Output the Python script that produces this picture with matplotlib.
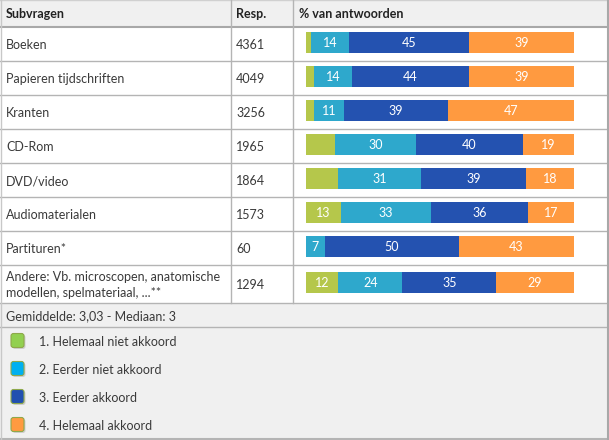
import matplotlib
matplotlib.use("Agg")
import matplotlib.pyplot as plt
from matplotlib.patches import Rectangle, FancyBboxPatch
import numpy as np

plt.rcParams['font.family'] = ['Lato', 'DejaVu Sans']

# ---------------- data ----------------
categories = ["Boeken", "Papieren tijdschriften", "Kranten", "CD-Rom", "DVD/video",
              "Audiomaterialen", "Partituren*",
              "Andere: Vb. microscopen, anatomische\nmodellen, spelmateriaal, ...**"]
responses = [4361, 4049, 3256, 1965, 1864, 1573, 60, 1294]
helemaal_niet = [2, 3, 3, 11, 12, 13, 0, 12]
eerder_niet = [14, 14, 11, 30, 31, 33, 7, 24]
eerder_akkoord = [45, 44, 39, 40, 39, 36, 50, 35]
helemaal_akkoord = [39, 39, 47, 19, 18, 17, 43, 29]
legend_labels = ["1. Helemaal niet akkoord", "2. Eerder niet akkoord",
                 "3. Eerder akkoord", "4. Helemaal akkoord"]
header = ["Subvragen", "Resp.", "% van antwoorden"]
footer_text = "Gemiddelde: 3,03 - Mediaan: 3"
# segments whose value label is not printed in the original (row, series)
hidden_labels = {(0, 0), (1, 0), (2, 0), (3, 0), (4, 0)}

series = [helemaal_niet, eerder_niet, eerder_akkoord, helemaal_akkoord]
bar_colors = ["#b5c74b", "#2ea8cc", "#2452b0", "#ff9a40"]
legend_colors = ["#92d050", "#00b0f0", "#2150b0", "#ff9a40"]

# ---------------- layout (pixels) ----------------
W, H = 609, 440
row_edges = [27, 61, 95, 129, 163, 197, 231, 265, 303]
footer_bottom = 327
col1, col2 = 231, 293
bar_x0, bar_x1 = 306, 574
txt = "#3a3a3a"
line_c = "#b4b4b4"

fig = plt.figure(figsize=(W / 100, H / 100), dpi=100)
bg = fig.add_axes([0, 0, 1, 1])
bg.set_xlim(0, W)
bg.set_ylim(H, 0)
bg.axis("off")

# backgrounds
bg.add_patch(Rectangle((0, 0), W, row_edges[0], facecolor="#f0f0f0", edgecolor="none"))
bg.add_patch(Rectangle((0, row_edges[-1]), W, H - row_edges[-1], facecolor="#f0f0f0", edgecolor="none"))

# horizontal lines
bg.plot([0, W], [0.5, 0.5], color="#d0d0d0", lw=1)
bg.plot([0, W], [row_edges[0], row_edges[0]], color="#a8a8a8", lw=1.5)
for y in row_edges[1:]:
    bg.plot([0, W], [y, y], color=line_c, lw=1)
bg.plot([0, W], [footer_bottom, footer_bottom], color=line_c, lw=1)
bg.plot([0, W], [H - 1, H - 1], color=line_c, lw=1.5)
# vertical lines
for x in (col1, col2):
    bg.plot([x, x], [0, row_edges[-1]], color=line_c, lw=1)
bg.plot([0.5, 0.5], [0, H], color="#c8c8c8", lw=1)
bg.plot([W - 1.5, W - 1.5], [0, H], color="#a8a8a8", lw=1.5)

fs = 9
# header
hy = row_edges[0] / 2 + 1
bg.text(6, hy, header[0], fontsize=fs, fontweight="bold", color="#222", va="center")
bg.text(col1 + 5, hy, header[1], fontsize=fs, fontweight="bold", color="#222", va="center")
bg.text(col2 + 6, hy, header[2], fontsize=fs, fontweight="bold", color="#222", va="center")

# rows
centers = [(row_edges[i] + row_edges[i + 1]) / 2 for i in range(len(categories))]
for i, (cat, r) in enumerate(zip(categories, responses)):
    bg.text(6, centers[i] + 1, cat, fontsize=fs, color=txt, va="center", linespacing=1.45)
    bg.text(col1 + 5, centers[i] + 1, str(r), fontsize=fs, color=txt, va="center")

bg.text(6, (row_edges[-1] + footer_bottom) / 2 + 1, footer_text, fontsize=fs, color=txt, va="center")

# ---------------- bars ----------------
bx = fig.add_axes([bar_x0 / W, 1 - row_edges[-1] / H, (bar_x1 - bar_x0) / W,
                   (row_edges[-1] - row_edges[0]) / H])
bx.set_xlim(0, 100)
bx.set_ylim(row_edges[-1], row_edges[0])
bx.axis("off")
ypos = np.array(centers) - 1.5
data = np.array(series, dtype=float)
totals = data.sum(axis=0)
widths = data / totals * 100  # rounded percentages normalised to full bar
left = np.zeros(len(categories))
for s, col in enumerate(bar_colors):
    bx.barh(ypos, widths[s], left=left, height=21, color=col, edgecolor="none")
    for i, v in enumerate(data[s]):
        if v > 0 and (i, s) not in hidden_labels:
            bx.text(left[i] + widths[s][i] / 2, ypos[i] + 0.5, f"{int(v)}", color="white",
                    fontsize=fs, ha="center", va="center")
    left += widths[s]

# ---------------- legend ----------------
leg_y = [341, 369, 397, 425]
for y, c, lab in zip(leg_y, legend_colors, legend_labels):
    bg.add_patch(FancyBboxPatch((12.5, y - 6), 13, 14, boxstyle="round,pad=0,rounding_size=2.5",
                                facecolor="#b8b8b8", edgecolor="none", alpha=0.6))
    bg.add_patch(FancyBboxPatch((11, y - 7.5), 13, 14, boxstyle="round,pad=0,rounding_size=2.5",
                                facecolor=c, edgecolor="#8ea84a", lw=0.8))
    bg.text(39, y + 1, lab, fontsize=fs, color=txt, va="center")

fig.savefig("out.png", dpi=100)
